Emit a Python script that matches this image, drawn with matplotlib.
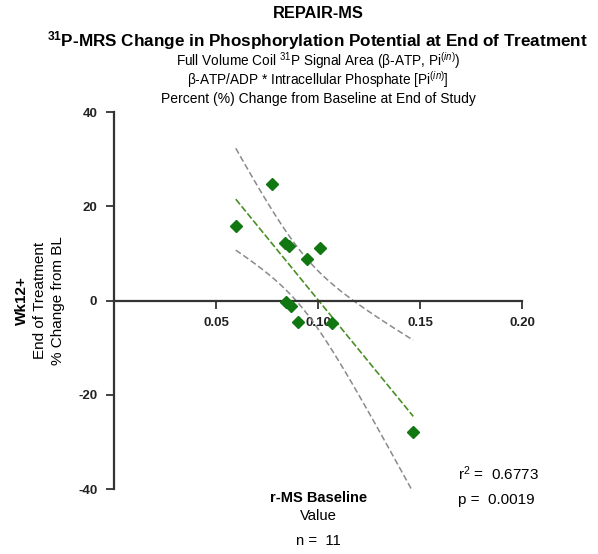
import matplotlib
matplotlib.use('Agg')
import matplotlib.pyplot as plt
import numpy as np

plt.rcParams['font.family'] = ['Liberation Sans', 'DejaVu Sans']
plt.rcParams['mathtext.fontset'] = 'custom'
plt.rcParams['mathtext.rm'] = 'Liberation Sans'
plt.rcParams['mathtext.it'] = 'Liberation Sans:italic'
plt.rcParams['mathtext.bf'] = 'Liberation Sans:bold'
plt.rcParams['axes.unicode_minus'] = False

# baseline value vs % change at end of treatment
baseline = [0.0597, 0.0775, 0.0838, 0.0860, 0.1011, 0.0948, 0.0843, 0.0866, 0.0900, 0.1069, 0.1467]
pct_change = [15.9, 24.7, 12.2, 11.5, 11.1, 8.8, -0.4, -1.1, -4.6, -4.8, -27.9]
x_ticks = [0.05, 0.10, 0.15, 0.20]
y_ticks = [-40, -20, 0, 20, 40]
r2_text = '0.6773'
p_text = '0.0019'
n_text = '11'

x = np.array(baseline)
y = np.array(pct_change)

# least squares fit with 95% confidence band of the mean
n = len(x)
slope, intercept = np.polyfit(x, y, 1)
resid = y - (slope * x + intercept)
s = np.sqrt(np.sum(resid ** 2) / (n - 2))
t_crit = 2.262  # t(0.975, df=9)
xs = np.linspace(x.min(), x.max(), 100)
ys = slope * xs + intercept
half = t_crit * s * np.sqrt(1.0 / n + (xs - x.mean()) ** 2 / np.sum((x - x.mean()) ** 2))

fig = plt.figure(figsize=(5.98, 5.54), dpi=100)
ax = fig.add_axes([0.1906, 0.1173, 0.6823, 0.6805])

ax.plot(xs, ys + half, color='#8a8a8a', lw=1.1, dashes=(4, 2))
ax.plot(xs, ys - half, color='#8a8a8a', lw=1.1, dashes=(4, 2))
ax.plot(xs, ys, color='#4a8f25', lw=1.2, dashes=(4, 1.5))
ax.plot(x, y, 'D', color='#117711', markersize=6, zorder=5)

ax.set_xlim(0, 0.2)
ax.set_ylim(-40, 40)
ax.spines['top'].set_visible(False)
ax.spines['right'].set_visible(False)
ax.spines['bottom'].set_position(('data', 0))
for sp in ['left', 'bottom']:
    ax.spines[sp].set_linewidth(1.6)
    ax.spines[sp].set_color('#333333')
ax.set_xticks(x_ticks)
ax.set_xticklabels(['%.2f' % v for v in x_ticks])
ax.set_yticks(y_ticks)
ax.tick_params(axis='both', direction='out', length=6, width=1.3, color='#333333',
               labelsize=9.5, pad=6)
for lab in ax.get_xticklabels() + ax.get_yticklabels():
    lab.set_fontweight('bold')
    lab.set_color('#222222')

# titles
cx = 0.1906 + 0.6823 / 2
fig.text(cx, 0.975, 'REPAIR-MS', ha='center', va='center', fontsize=11.8, fontweight='bold')
fig.text(cx, 0.927, r'$\mathbf{^{31}}$P-MRS Change in Phosphorylation Potential at End of Treatment',
         ha='center', va='center', fontsize=12.3, fontweight='bold')
fig.text(cx, 0.891, r'Full Volume Coil $^{31}$P Signal Area (β-ATP, Pi$^{(in)}$)',
         ha='center', va='center', fontsize=9.8)
fig.text(cx, 0.857, r'β-ATP/ADP * Intracellular Phosphate [Pi$^{(in)}$]',
         ha='center', va='center', fontsize=9.8)
fig.text(cx, 0.821, 'Percent (%) Change from Baseline at End of Study',
         ha='center', va='center', fontsize=10)

# y axis label
fig.text(0.037, 0.457, 'Wk12+', rotation=90, ha='center', va='center', fontsize=11, fontweight='bold')
fig.text(0.067, 0.457, 'End of Treatment', rotation=90, ha='center', va='center', fontsize=11)
fig.text(0.097, 0.457, '% Change from BL', rotation=90, ha='center', va='center', fontsize=11)

# x axis label and stats
fig.text(0.532, 0.101, 'r-MS Baseline', ha='center', va='center', fontsize=10.5, fontweight='bold')
fig.text(0.532, 0.068, 'Value', ha='center', va='center', fontsize=10.7)
fig.text(0.532, 0.023, 'n =  ' + n_text, ha='center', va='center', fontsize=10.7)
fig.text(0.766, 0.145, r'r$^2$ =  ' + r2_text, ha='left', va='center', fontsize=11)
fig.text(0.766, 0.097, 'p =  ' + p_text, ha='left', va='center', fontsize=11)

fig.savefig('out.png', dpi=100)
